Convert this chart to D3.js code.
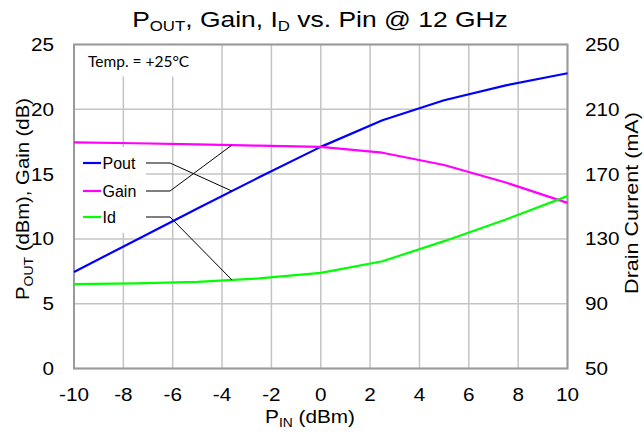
<!DOCTYPE html>
<html><head><meta charset="utf-8">
<script src="https://cdn.jsdelivr.net/npm/d3@7"></script>
<style>
body{margin:0;background:#fff}
svg{display:block}
text{font-family:"Liberation Sans",Arial,sans-serif;fill:#000}
</style>
</head><body>
<svg id="c" width="644" height="432"></svg>
<script>
// ---- data ----
const pin = [-10, -7.5, -5, -2.5, 0, 2.5, 5, 7.5, 10];
const pout = [7.45, 9.9, 12.35, 14.75, 17.1, 19.15, 20.7, 21.85, 22.78];
const gain = [17.45, 17.38, 17.3, 17.19, 17.1, 16.65, 15.7, 14.35, 12.78];
const idMa = [102.1, 102.6, 103.5, 105.6, 109.0, 116.2, 128.6, 142.0, 156.4];
const xTicks = [-10, -8, -6, -4, -2, 0, 2, 4, 6, 8, 10];
const yLeftTicks = [0, 5, 10, 15, 20, 25];
const yRightTicks = [50, 90, 130, 170, 210, 250];
const seriesNames = ["Pout", "Gain", "Id"];
const seriesColors = ["#0000ff", "#ff00ff", "#00ff00"];
const pointerPin = -3.6;   // where the legend leader lines touch each curve
const tempLabel = "Temp. = +25°C";

// ---- layout ----
const svg = d3.select("#c");
const L = 74, R = 567.5, T = 44.5, B = 368.5;
const x = d3.scaleLinear().domain([-10, 10]).range([L, R]);
const yL = d3.scaleLinear().domain([0, 25]).range([B, T]);
const yR = d3.scaleLinear().domain([50, 250]).range([B, T]);
const gridColor = "#c4c4c4", borderColor = "#9a9a9a";
const STR = 1.15; // horizontal stretch of original text

// grid
const g = svg.append("g");
g.selectAll("line.vx").data(xTicks).join("line")
  .attr("x1", d => x(d)).attr("x2", d => x(d)).attr("y1", T).attr("y2", B)
  .attr("stroke", gridColor).attr("stroke-width", 1.5);
g.selectAll("line.hy").data(yLeftTicks).join("line")
  .attr("x1", L).attr("x2", R).attr("y1", d => yL(d)).attr("y2", d => yL(d))
  .attr("stroke", gridColor).attr("stroke-width", 1.5);

// white boxes behind temp label and legend
svg.append("rect").attr("x", L + 1).attr("y", T + 1).attr("width", 126).attr("height", 31).attr("fill", "#fff");
svg.append("rect").attr("x", L + 1).attr("y", 147).attr("width", 71).attr("height", 86).attr("fill", "#fff");

// border
svg.append("rect").attr("x", L).attr("y", T).attr("width", R - L).attr("height", B - T)
  .attr("fill", "none").attr("stroke", borderColor).attr("stroke-width", 2);

// curves
const series = [
  {name: seriesNames[0], color: seriesColors[0], vals: pout, y: yL},
  {name: seriesNames[1], color: seriesColors[1], vals: gain, y: yL},
  {name: seriesNames[2], color: seriesColors[2], vals: idMa, y: yR}
];
series.forEach(s => {
  const line = d3.line().x((d, i) => x(pin[i])).y(d => s.y(d));
  svg.append("path").datum(s.vals).attr("d", line)
    .attr("fill", "none").attr("stroke", s.color).attr("stroke-width", 2.2)
    .attr("stroke-linejoin", "round");
});

// legend
const legY = [163, 191, 217];
series.forEach((s, i) => {
  svg.append("line").attr("x1", 83).attr("x2", 101).attr("y1", legY[i]).attr("y2", legY[i])
    .attr("stroke", s.color).attr("stroke-width", 2.2);
  svg.append("text").attr("x", 102.5).attr("y", legY[i] + 6).attr("font-size", 16).text(s.name);
  // leader line
  const interp = d3.scaleLinear().domain(pin).range(s.vals);
  const px = x(pointerPin), py = s.y(interp(pointerPin));
  svg.append("polyline")
    .attr("points", `146,${legY[i]} 170,${legY[i]} ${px},${py}`)
    .attr("fill", "none").attr("stroke", "#000").attr("stroke-width", 1);
});

// temp label
svg.append("text").attr("x", 88).attr("y", 67).style("font-family", "Lato, 'Open Sans', sans-serif")
  .attr("font-size", 15.5).text(tempLabel);

// helper for stretched text
function stext(xp, yp, anchor, size, rot) {
  const gg = svg.append("g").attr("transform", `translate(${xp},${yp}) rotate(${rot || 0}) scale(${STR},1)`);
  return gg.append("text").attr("text-anchor", anchor).attr("font-size", size);
}

// tick labels
xTicks.forEach(d => stext(x(d), 400.5, "middle", 18).text(d));
yLeftTicks.forEach(d => stext(54, yL(d) + 6.5, "end", 18).text(d));
yRightTicks.forEach(d => stext(585, yR(d) + 6.5, "start", 18).text(d));

// fitted text helper
function fitted(cx, cy, rot, size, target, build) {
  const gg = svg.append("g");
  const t = gg.append("text").attr("text-anchor", "middle").attr("font-size", size);
  build(t);
  const w = t.node().getBBox().width;
  gg.attr("transform", `translate(${cx},${cy}) rotate(${rot}) scale(${target / w},1)`);
}

// title
fitted(320, 27, 0, 22, 376, t => {
  t.append("tspan").text("P");
  t.append("tspan").attr("font-size", 14).attr("dy", 4).text("OUT");
  t.append("tspan").attr("dy", -4).text(", Gain, I");
  t.append("tspan").attr("font-size", 14).attr("dy", 4).text("D");
  t.append("tspan").attr("dy", -4).text(" vs. Pin @ 12 GHz");
});
// x title
fitted(310, 423, 0, 18, 90, t => {
  t.append("tspan").text("P");
  t.append("tspan").attr("font-size", 12).attr("dy", 4).text("IN");
  t.append("tspan").attr("dy", -4).text(" (dBm)");
});
// left y title
fitted(29, 199, -90, 17.5, 202, t => {
  t.append("tspan").text("P");
  t.append("tspan").attr("font-size", 12).attr("dy", 4).text("OUT");
  t.append("tspan").attr("dy", -4).text(" (dBm), Gain (dB)");
});
// right y title
fitted(638, 203, -90, 17.5, 182, t => {
  t.text("Drain Current (mA)");
});
</script>
</body></html>
